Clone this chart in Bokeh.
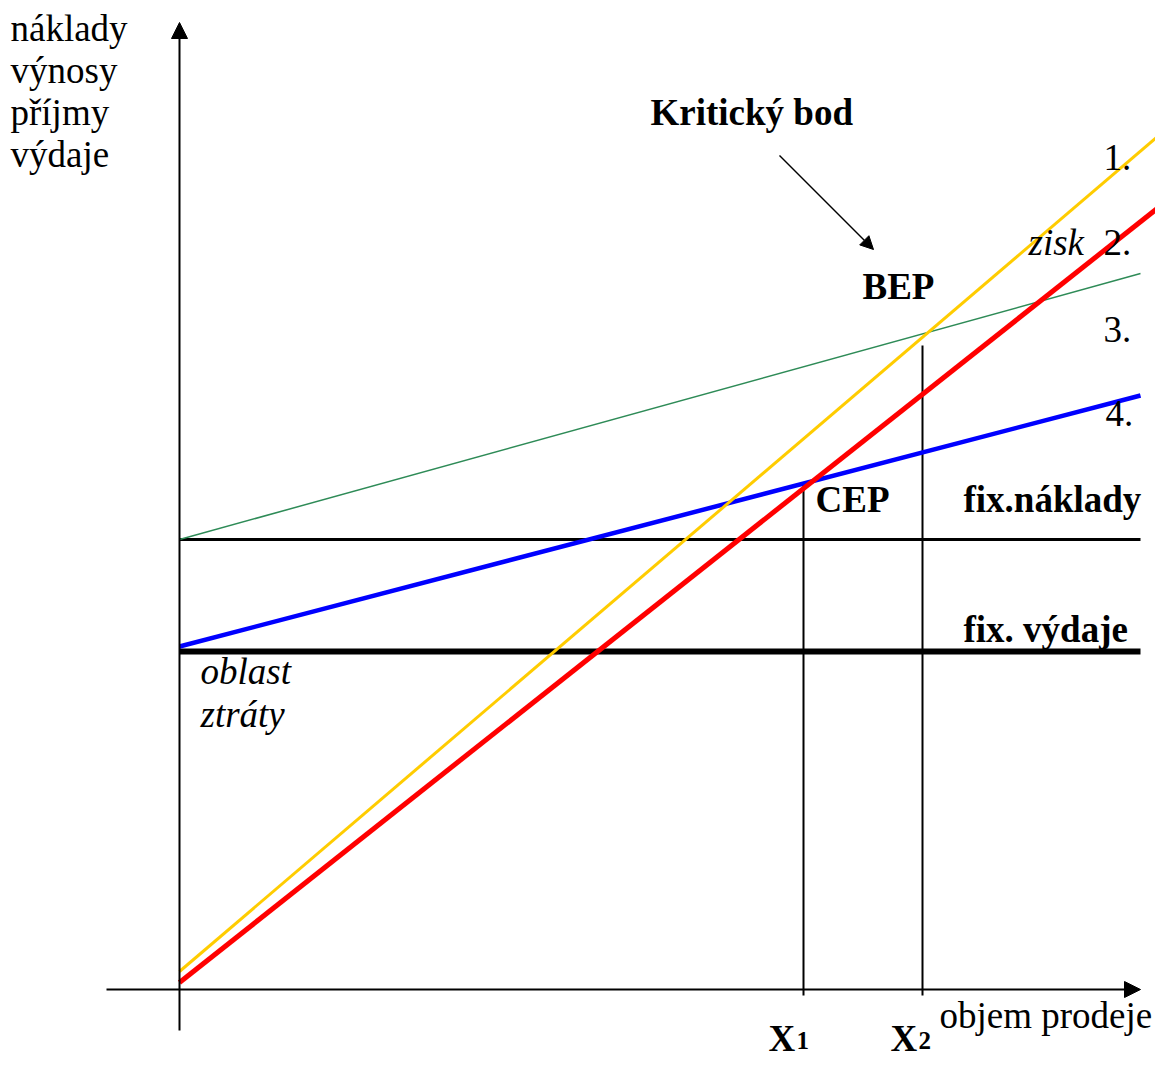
from bokeh.plotting import figure
from bokeh.models import Range1d, Arrow, NormalHead, Label
from bokeh.embed import file_html
from bokeh.resources import INLINE

# ---- data (arbitrary units: x = sales volume, y = money) ----
x_full = [0, 984]
revenue_1 = [18, 858]          # 1. (yellow)
income_2 = [7, 786]            # 2. (red)
x_cost = [0, 961]
costs_3 = [450, 716]           # 3. (green)
expenses_4 = [343, 594]        # 4. (blue)
fixed_costs = [450, 450]       # fix.náklady
fixed_expenses = [338, 338]    # fix. výdaje
x_marks = [624, 743]           # X1 (CEP), X2 (BEP)
mark_tops = [505, 644]
mark_bottom = -6

W, H = 1155, 1059
p = figure(width=W, height=H, output_backend="svg", toolbar_location=None,
           x_range=Range1d(-179, -179 + W), y_range=Range1d(989 - H, 989),
           min_border=0)
p.axis.visible = False
p.grid.visible = False
p.outline_line_color = None
p.background_fill_color = "white"
p.border_fill_color = "white"

# axes with arrows
p.add_layout(Arrow(end=NormalHead(size=16, fill_color="black", line_color="black"),
                   x_start=0, y_start=-41, x_end=0, y_end=967,
                   line_width=2, line_color="black"))
p.add_layout(Arrow(end=NormalHead(size=16, fill_color="black", line_color="black"),
                   x_start=-73, y_start=0, x_end=961, y_end=0,
                   line_width=2, line_color="black"))

# fixed lines
p.line(x_cost, fixed_costs, line_color="black", line_width=3)
p.line(x_cost, fixed_expenses, line_color="black", line_width=6)

# verticals at X1, X2
for xm, top in zip(x_marks, mark_tops):
    p.line([xm, xm], [mark_bottom, top], line_color="black", line_width=2)

# sloped lines
p.line(x_cost, costs_3, line_color="#2E8B57", line_width=1.5)
p.line(x_cost, expenses_4, line_color="#0000FF", line_width=4.5)
p.line(x_full, revenue_1, line_color="#FFCC00", line_width=3)
p.line(x_full, income_2, line_color="#FF0000", line_width=5)

# pointer arrow to BEP
p.add_layout(Arrow(end=NormalHead(size=13, fill_color="black", line_color="black"),
                   x_start=600, y_start=834, x_end=694, y_end=740,
                   line_width=1.5, line_color="black"))

FONT = "Liberation Serif"
FS = "37px"

def lab(x, y, text, style="normal", size=FS):
    p.add_layout(Label(x=x, y=y, text=text, text_font=FONT, text_font_size=size,
                       text_font_style=style, text_color="black",
                       text_baseline="alphabetic", text_align="left"))

for i, t in enumerate(["náklady", "výnosy", "příjmy", "výdaje"]):
    lab(-169, 961 - 42 * i, t)

lab(471, 877, "Kritický bod", "bold")
lab(683, 703, "BEP", "bold")
lab(924, 832, "1.")
lab(849, 747, "zisk", "italic")
lab(924, 747, "2.")
lab(924, 660, "3.")
lab(926, 576, "4.")
lab(636, 490, "CEP", "bold")
lab(784, 490, "fix.náklady", "bold")
lab(784, 360, "fix. výdaje", "bold")
lab(21, 318, "oblast", "italic")
lab(21, 275, "ztráty", "italic")
lab(760, -26, "objem prodeje")
lab(589, -49, "X", "bold")
lab(617, -51, "1", "bold", "25px")
lab(711, -49, "X", "bold")
lab(739, -51, "2", "bold", "25px")

open("out.html", "w").write(file_html(p, INLINE))
